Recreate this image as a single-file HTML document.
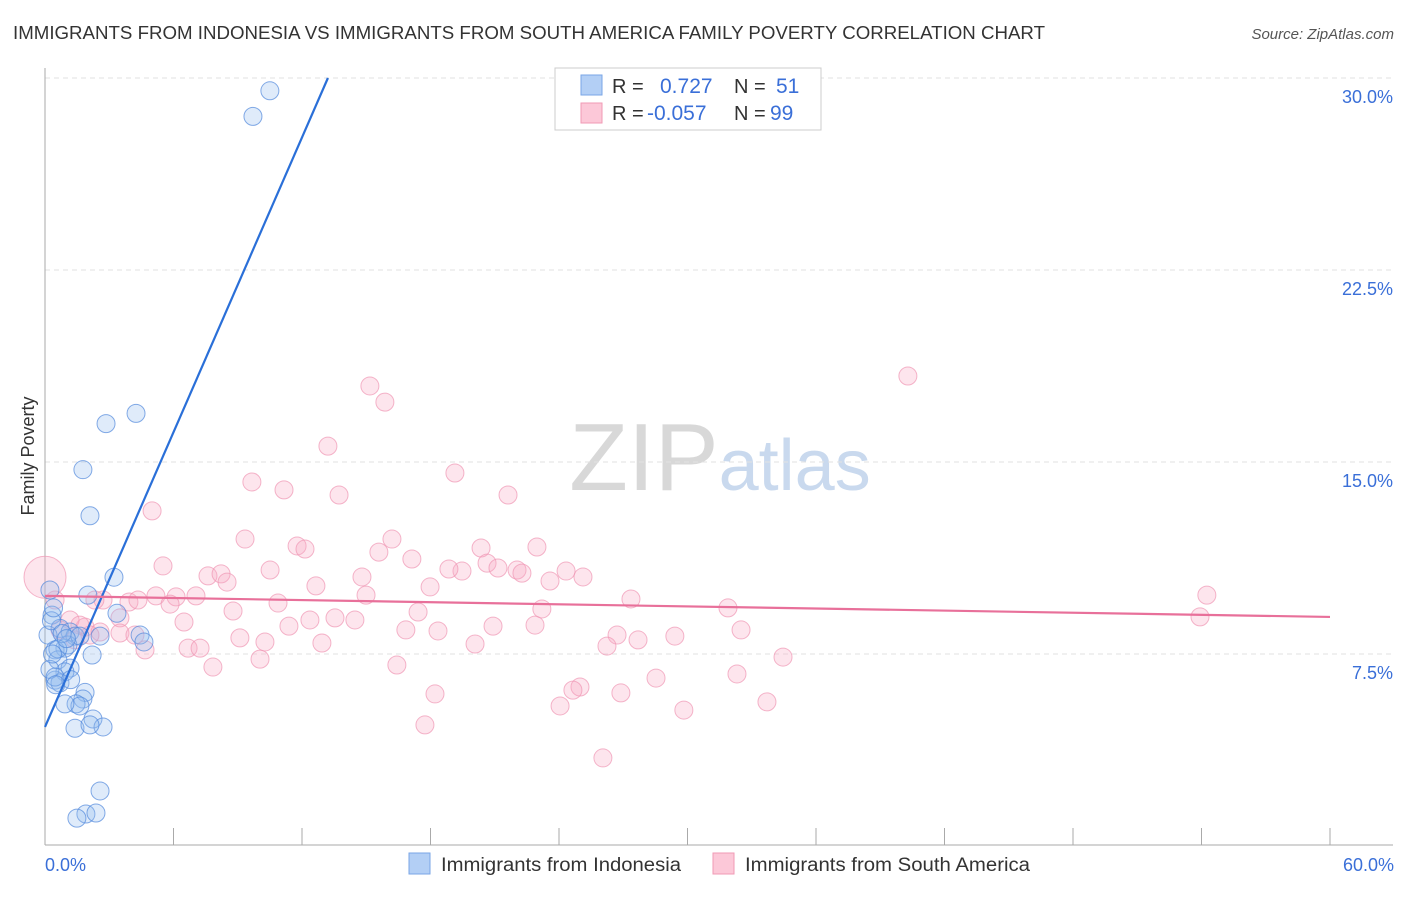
<!DOCTYPE html>
<html><head><meta charset="utf-8"><style>
body{margin:0;background:#fff;font-family:"Liberation Sans",sans-serif;}
svg text{font-family:"Liberation Sans",sans-serif;}
</style></head><body>
<svg id="chart" width="1406" height="892" xmlns="http://www.w3.org/2000/svg">
<text x="13" y="39" font-size="18" fill="#333" textLength="1032" lengthAdjust="spacingAndGlyphs">IMMIGRANTS FROM INDONESIA VS IMMIGRANTS FROM SOUTH AMERICA FAMILY POVERTY CORRELATION CHART</text>
<text x="1394" y="39" font-size="15" fill="#555" text-anchor="end" font-style="italic">Source: ZipAtlas.com</text>
<text x="720" y="490" font-size="96" fill="#ddd" text-anchor="middle" font-family="Liberation Serif"><tspan fill="#d8d8d8">ZIP</tspan><tspan fill="#c9d9ee" font-family="Liberation Sans" font-size="72">atlas</tspan></text>
<text transform="translate(34,456) rotate(-90)" font-size="18" fill="#333" text-anchor="middle">Family Poverty</text>
<g id="grid"></g><g id="axes"></g><g id="pink"></g><g id="blue"></g><g id="lines"></g>
<g>
<rect x="555" y="68" width="266" height="62" fill="#fff" stroke="#ccc"/>
<rect x="581" y="75" width="21" height="20" fill="#b3cff5" stroke="#7aa6e6"/>
<rect x="581" y="103" width="21" height="20" fill="#fcc8d8" stroke="#f09ab5"/>
<text x="612" y="93" font-size="20" fill="#333">R =</text><text x="660" y="93" font-size="21" fill="#3a6fd8">0.727</text>
<text x="734" y="93" font-size="20" fill="#333">N =</text><text x="776" y="93" font-size="21" fill="#3a6fd8">51</text>
<text x="612" y="120" font-size="20" fill="#333">R =</text><text x="647" y="120" font-size="21" fill="#3a6fd8">-0.057</text>
<text x="734" y="120" font-size="20" fill="#333">N =</text><text x="770" y="120" font-size="21" fill="#3a6fd8">99</text>
</g>
<g><rect x="409" y="853" width="21" height="21" fill="#b3cff5" stroke="#7aa6e6"/><text x="441" y="871" font-size="19" fill="#333" textLength="240" lengthAdjust="spacingAndGlyphs">Immigrants from Indonesia</text></g>
<g><rect x="713" y="853" width="21" height="21" fill="#fcc8d8" stroke="#f09ab5"/><text x="745" y="871" font-size="19" fill="#333" textLength="285" lengthAdjust="spacingAndGlyphs">Immigrants from South America</text></g>
</svg>
<script>
const yTicks=[7.5,15,22.5,30];
const yTickLabels=["7.5%","15.0%","22.5%","30.0%"];
const xLabels=["0.0%","60.0%"];
const blueX=[10.5,9.71,4.25,2.85,1.77,2.1,3.22,2.0,3.36,4.44,4.62,2.2,0.23,0.33,0.7,1.17,1.4,0.93,0.47,0.6,1.17,0.93,0.47,0.7,1.87,1.77,1.45,1.63,0.93,2.24,2.71,1.4,2.1,2.57,1.91,2.38,1.49,1.07,0.14,0.23,1.63,2.57,0.47,0.3,0.8,1.2,0.6,1.0,0.4,0.5,0.35];
const blueY=[29.5,28.5,16.9,16.5,14.7,12.9,10.5,9.8,9.09,8.24,7.97,7.46,10.0,9.02,8.5,8.36,8.2,7.73,7.66,7.27,6.95,6.8,6.48,6.37,6.0,5.74,5.55,5.47,5.55,4.96,4.65,4.6,4.73,2.15,1.25,1.29,1.09,7.85,8.24,6.9,8.2,8.2,6.6,8.8,8.3,6.5,7.7,8.1,9.3,6.3,7.5];
const pinkX=[40.29,15.17,15.87,13.21,19.14,9.66,11.16,13.73,21.62,5.0,9.34,16.2,11.77,12.14,22.97,20.36,15.59,17.13,5.51,20.64,10.51,22.04,19.47,18.86,21.15,24.33,22.27,7.61,8.22,25.12,14.8,23.58,8.5,12.65,17.98,5.18,6.12,7.05,14.99,3.92,2.71,4.34,27.36,10.88,5.84,23.2,8.78,17.42,31.89,54.25,53.93,3.5,6.49,12.37,13.54,14.47,20.92,22.88,11.39,16.85,18.35,32.5,1.87,2.57,3.5,4.2,9.1,10.27,12.93,20.08,26.71,27.69,29.41,6.68,7.24,4.67,26.24,34.46,10.04,16.43,7.84,32.31,24.98,24.65,18.21,26.89,28.53,24.05,29.83,33.71,17.74,26.05,2.33,1.17,0.7,1.4,2.1,1.63,0.47];
const pinkY=[18.36,17.97,17.34,15.62,14.57,14.22,13.91,13.71,13.71,13.09,11.99,11.99,11.72,11.6,11.68,11.64,11.48,11.21,10.94,11.05,10.78,10.78,10.74,10.82,10.86,10.74,10.66,10.55,10.63,10.51,10.51,10.35,10.31,10.16,10.12,9.77,9.73,9.77,9.8,9.53,9.61,9.61,9.65,9.49,9.45,9.26,9.18,9.14,9.3,9.8,8.95,8.91,8.75,8.83,8.91,8.83,8.59,8.63,8.59,8.44,8.4,8.44,8.55,8.36,8.32,8.24,8.13,7.97,7.93,7.89,8.24,8.05,8.2,7.73,7.73,7.66,7.81,7.38,7.3,7.07,6.99,6.72,6.21,6.09,5.94,5.98,6.56,5.47,5.31,5.63,4.73,3.44,9.61,8.83,8.44,8.05,8.24,8.63,9.61];
const blueFit=[4.65,1.919];
const pinkFit=[9.77,-0.0137];
const X0=45,X1=1330,Y0=846,PXPERY=25.6;
const sx=v=>X0+v/60*(X1-X0);
const sy=v=>Y0-v*PXPERY;
const NS="http://www.w3.org/2000/svg";
function mk(t,a,p){const e=document.createElementNS(NS,t);for(const k in a)e.setAttribute(k,a[k]);document.getElementById(p).appendChild(e);return e;}
yTicks.forEach((t,i)=>{
  const l=mk('line',{x1:45,x2:1393,y1:sy(t),y2:sy(t),stroke:'#e2e2e2','stroke-dasharray':'5,4'},'grid');
  
  
  const tx=mk('text',{x:1393,y:sy(t)+25,'font-size':18,fill:'#3a6fd8','text-anchor':'end'},'grid');tx.textContent=yTickLabels[i];
  
  
});
const ax=mk('line',{x1:45,x2:45,y1:68,y2:845,stroke:'#aaa'},'axes');


const bx=mk('line',{x1:45,x2:1393,y1:845,y2:845,stroke:'#aaa'},'axes');


for(let i=1;i<=10;i++){const t=mk('line',{x1:sx(i*6),x2:sx(i*6),y1:828,y2:845,stroke:'#aaa'},'axes');
  
  }
[[0,'start',45],[60,'end',1394]].forEach((d,i)=>{const t=mk('text',{x:d[2],y:871,'font-size':18,fill:'#3a6fd8','text-anchor':d[1]},'axes');t.textContent=xLabels[i];
  
  });
pinkX.forEach((v,i)=>{const c=mk('circle',{cx:sx(v),cy:sy(pinkY[i]),r:9,fill:'rgba(248,170,195,0.3)',stroke:'rgba(240,150,180,0.7)','stroke-width':1},'pink');
  
  });
const big=mk('circle',{cx:sx(0),cy:sy(10.5),r:21,fill:'rgba(248,170,195,0.3)',stroke:'rgba(240,150,180,0.7)'},'pink');


blueX.forEach((v,i)=>{const c=mk('circle',{cx:sx(v),cy:sy(blueY[i]),r:9,fill:'rgba(150,190,240,0.3)',stroke:'rgba(80,135,220,0.7)','stroke-width':1},'blue');
  
  });
const bxEnd=(30-blueFit[0])/blueFit[1];
const bl=mk('line',{x1:sx(0),y1:sy(blueFit[0]),x2:sx(bxEnd),y2:sy(30),stroke:'#2a6fd8','stroke-width':2.2},'lines');


const pl=mk('line',{x1:sx(0),y1:sy(pinkFit[0]),x2:sx(60),y2:sy(pinkFit[0]+60*pinkFit[1]),stroke:'#e8709a','stroke-width':2.2},'lines');


</script>
</body></html>
